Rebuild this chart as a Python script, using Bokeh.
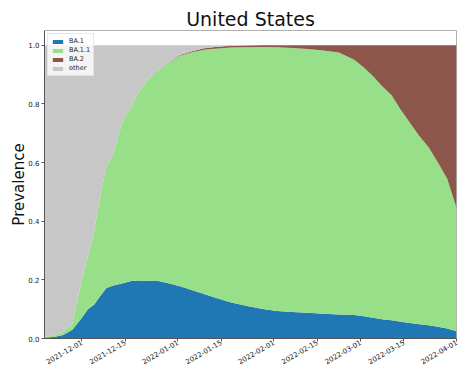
import math
import pandas as pd
from bokeh.plotting import figure
from bokeh.models import (ColumnDataSource, FixedTicker, DatetimeTickFormatter,
                          NumeralTickFormatter, Range1d)
from bokeh.embed import file_html
from bokeh.resources import INLINE

# Variant prevalence in the United States (share of sequences)
dates = [
    "2021-11-19", "2021-11-22", "2021-11-25", "2021-11-28", "2021-12-01",
    "2021-12-03", "2021-12-05", "2021-12-07", "2021-12-09", "2021-12-11",
    "2021-12-13", "2021-12-15", "2021-12-17", "2021-12-19", "2021-12-22",
    "2021-12-25", "2021-12-29", "2022-01-02", "2022-01-06", "2022-01-10",
    "2022-01-14", "2022-01-18", "2022-01-23", "2022-01-28", "2022-02-02",
    "2022-02-07", "2022-02-12", "2022-02-17", "2022-02-22", "2022-02-27",
    "2022-03-02", "2022-03-05", "2022-03-08", "2022-03-11", "2022-03-14",
    "2022-03-17", "2022-03-20", "2022-03-23", "2022-03-26", "2022-03-29",
    "2022-04-01",
]
ba1 = [
    0.003, 0.005, 0.012, 0.030, 0.070, 0.100, 0.115, 0.145, 0.172, 0.180,
    0.185, 0.190, 0.196, 0.198, 0.196, 0.198, 0.188, 0.177, 0.164, 0.150,
    0.136, 0.124, 0.112, 0.101, 0.094, 0.090, 0.088, 0.084, 0.082, 0.080,
    0.076, 0.071, 0.066, 0.062, 0.057, 0.053, 0.049, 0.045, 0.040, 0.034,
    0.025,
]
ba1_1 = [
    0.002, 0.005, 0.010, 0.020, 0.130, 0.180, 0.250, 0.345, 0.413, 0.445,
    0.515, 0.570, 0.594, 0.637, 0.682, 0.712, 0.752, 0.788, 0.813, 0.835,
    0.853, 0.868, 0.881, 0.893, 0.899, 0.900, 0.899, 0.898, 0.893, 0.870,
    0.849, 0.824, 0.794, 0.768, 0.723, 0.682, 0.641, 0.607, 0.560, 0.511,
    0.420,
]
ba2 = [
    0.000, 0.000, 0.000, 0.000, 0.000, 0.000, 0.000, 0.000, 0.000, 0.000,
    0.000, 0.000, 0.000, 0.000, 0.000, 0.000, 0.001, 0.002, 0.003, 0.005,
    0.006, 0.006, 0.006, 0.006, 0.007, 0.010, 0.013, 0.018, 0.025, 0.050,
    0.075, 0.105, 0.140, 0.170, 0.220, 0.265, 0.310, 0.348, 0.400, 0.455,
    0.555,
]
other = [
    0.995, 0.990, 0.978, 0.950, 0.800, 0.720, 0.635, 0.510, 0.415, 0.375,
    0.300, 0.240, 0.210, 0.165, 0.122, 0.090, 0.059, 0.033, 0.020, 0.010,
    0.005, 0.002, 0.001, 0.000, 0.000, 0.000, 0.000, 0.000, 0.000, 0.000,
    0.000, 0.000, 0.000, 0.000, 0.000, 0.000, 0.000, 0.000, 0.000, 0.000,
    0.000,
]
labels = ["BA.1", "BA.1.1", "BA.2", "other"]
colors = ["#1f77b4", "#98df8a", "#8c564b", "#c7c7c7"]
tick_dates = ["2021-12-01", "2021-12-15", "2022-01-01", "2022-01-15",
              "2022-02-01", "2022-02-15", "2022-03-01", "2022-03-15",
              "2022-04-01"]

src = ColumnDataSource(dict(
    date=pd.to_datetime(dates), ba1=ba1, ba1_1=ba1_1, ba2=ba2, other=other))

FONT = "DejaVu Sans"

p = figure(width=459, height=370, x_axis_type="datetime",
           output_backend="svg", toolbar_location=None,
           min_border_left=44, min_border_right=3,
           min_border_top=30, min_border_bottom=31,
           x_range=Range1d(pd.Timestamp(dates[0]), pd.Timestamp(dates[-1])),
           y_range=Range1d(0, 1.05))

p.varea_stack(stackers=["ba1", "ba1_1", "ba2", "other"], x="date",
              color=colors, legend_label=labels, source=src)

p.title.text = "United States"
p.title.align = "center"
p.title.text_font = FONT
p.title.text_font_size = "19px"
p.title.text_font_style = "normal"
p.title.text_color = "#111111"
p.title.standoff = 2

p.xgrid.visible = False
p.ygrid.visible = False
p.outline_line_color = "#b0b0b0"
p.background_fill_color = "white"

tick_ms = [pd.Timestamp(d).value // 10**6 for d in tick_dates]
p.xaxis.ticker = FixedTicker(ticks=tick_ms)
fmt = "%Y-%m-%d"
p.xaxis.formatter = DatetimeTickFormatter(days=fmt, months=fmt, years=fmt,
                                          hours=fmt, minutes=fmt)
p.xaxis.major_label_orientation = math.pi / 6
p.yaxis.ticker = FixedTicker(ticks=[0, 0.2, 0.4, 0.6, 0.8, 1.0])
p.yaxis.formatter = NumeralTickFormatter(format="0.0")
p.yaxis.axis_label = "Prevalence"
p.yaxis.axis_label_text_font = FONT
p.yaxis.axis_label_text_font_size = "15px"
p.yaxis.axis_label_text_font_style = "normal"
p.yaxis.axis_label_text_color = "#111111"
p.yaxis.axis_label_standoff = -3

for ax in (p.xaxis, p.yaxis):
    ax.major_label_text_font = FONT
    ax.major_label_text_font_size = "7px"
    ax.major_label_text_color = "#222222"
    ax.axis_line_color = "#555555"
    ax.major_tick_line_color = "#555555"
    ax.major_tick_out = 3
    ax.major_tick_in = 0
    ax.minor_tick_line_color = None
p.xaxis.major_label_standoff = 0
p.yaxis.major_label_standoff = 2

leg = p.legend[0]
leg.location = "top_left"
leg.margin = 3
leg.padding = 3
leg.spacing = 1
leg.glyph_width = 13
leg.glyph_height = 5
leg.label_height = 8
leg.label_standoff = 5
leg.label_text_font = FONT
leg.label_text_font_size = "6.5px"
leg.label_text_color = "#222222"
leg.border_line_color = "#d0d0d0"
leg.background_fill_alpha = 0.8

open("out.html", "w").write(file_html(p, INLINE))
